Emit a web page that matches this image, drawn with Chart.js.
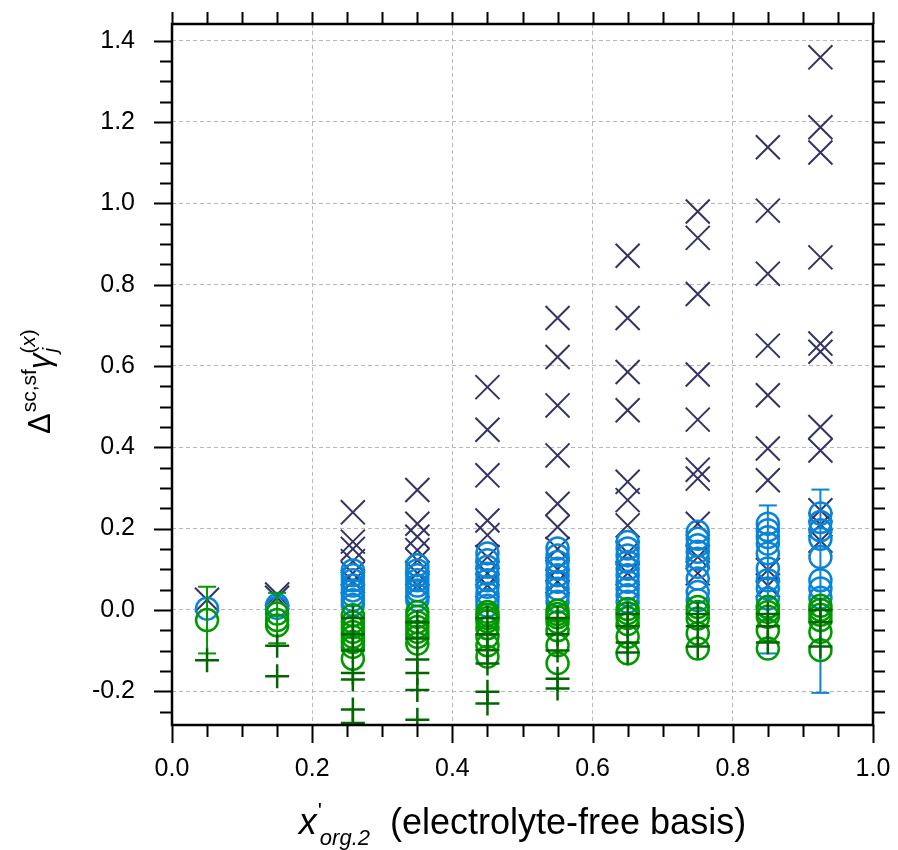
<!DOCTYPE html>
<html>
<head>
<meta charset="utf-8">
<script src="https://cdn.jsdelivr.net/npm/chart.js@4"></script>
<style>
  html, body { margin: 0; padding: 0; background: #fff; }
  #wrap { width: 898px; height: 850px; }
</style>
</head>
<body>
<div id="wrap"><canvas id="chart" width="898" height="850"></canvas></div>
<script>
// x positions of the ten composition groups
const xGroups = [0.05, 0.15, 0.258, 0.35, 0.45, 0.55, 0.65, 0.75, 0.85, 0.925];

// navy X markers
const crossVals = [
  [0.025],
  [0.038, 0.03],
  [0.24, 0.168, 0.15, 0.12, 0.09, 0.07],
  [0.295, 0.212, 0.18, 0.147, 0.122, 0.09, 0.06],
  [0.548, 0.443, 0.331, 0.22, 0.184, 0.13, 0.09, 0.06],
  [0.718, 0.622, 0.503, 0.38, 0.261, 0.204, 0.15, 0.1, 0.07],
  [0.871, 0.718, 0.585, 0.491, 0.315, 0.27, 0.208, 0.14, 0.09],
  [0.98, 0.915, 0.777, 0.579, 0.468, 0.345, 0.323, 0.212, 0.13, 0.09],
  [1.138, 0.982, 0.827, 0.65, 0.528, 0.397, 0.319, 0.098, 0.06],
  [1.359, 1.187, 1.125, 0.867, 0.655, 0.635, 0.45, 0.392, 0.245, 0.21, 0.17]
];

// blue open circles
const blueVals = [
  [0.003],
  [0.012, 0.005],
  [0.097, 0.085, 0.073, 0.06, 0.048, 0.036, 0.024, 0.012],
  [0.11, 0.097, 0.085, 0.073, 0.06, 0.048, 0.036, 0.024],
  [0.139, 0.122, 0.106, 0.089, 0.073, 0.057, 0.04, 0.024, 0.01],
  [0.151, 0.134, 0.118, 0.101, 0.085, 0.069, 0.052, 0.036, 0.02],
  [0.167, 0.151, 0.134, 0.118, 0.101, 0.085, 0.069, 0.052, 0.036, 0.02],
  [0.192, 0.175, 0.159, 0.143, 0.126, 0.106, 0.077, 0.044, 0.024],
  [0.212, 0.196, 0.179, 0.163, 0.139, 0.102, 0.073, 0.053, 0.028, 0.007],
  [0.237, 0.216, 0.196, 0.175, 0.13, 0.073, 0.053, 0.03]
];

// green open circles
const greenVals = [
  [-0.025],
  [-0.009, -0.025, -0.038],
  [-0.013, -0.03, -0.042, -0.054, -0.066, -0.079, -0.091, -0.12],
  [-0.005, -0.017, -0.03, -0.042, -0.054, -0.066, -0.083],
  [-0.005, -0.012, -0.02, -0.028, -0.045, -0.066, -0.087, -0.115],
  [-0.002, -0.01, -0.018, -0.03, -0.05, -0.087, -0.131],
  [0.002, -0.008, -0.02, -0.035, -0.066, -0.107],
  [0.007, -0.005, -0.021, -0.058, -0.095],
  [0.007, -0.005, -0.017, -0.05, -0.095],
  [0.01, 0.0, -0.012, -0.025, -0.054, -0.099]
];

// dark green plus markers
const plusVals = [
  [-0.124],
  [-0.088, -0.163],
  [-0.02, -0.06, -0.1, -0.155, -0.171, -0.245, -0.278],
  [-0.03, -0.07, -0.122, -0.155, -0.197, -0.27],
  [-0.02, -0.06, -0.099, -0.132, -0.201, -0.23],
  [-0.02, -0.06, -0.1, -0.169, -0.193],
  [-0.01, -0.04, -0.08, -0.105],
  [-0.01, -0.04, -0.09],
  [-0.01, -0.04, -0.08],
  [0.0, -0.03, -0.09]
];

// error bars (centre and half-width)
const greenErrX = [0.05, 0.15];
const greenErrMid = [-0.025, -0.02];
const greenErrHalf = [0.082, 0.062];
const blueErrX = [0.85, 0.925];
const blueErrMid = [0.075, 0.046];
const blueErrHalf = [0.182, 0.25];

const NAVY = "#333366";
const BLUE = "#0a84d6";
const GREEN = "#009a00";
const DKGREEN = "#006600";
const FONT = "'Liberation Sans', Arial, sans-serif";

Chart.defaults.font.family = FONT;
Chart.defaults.font.size = 25;
Chart.defaults.color = "#000";

function groupPoints(vals) {
  const out = [];
  xGroups.forEach((x, i) => vals[i].forEach(y => out.push({ x, y })));
  return out;
}

function errPoints(xs, mids, halfs) {
  const out = [];
  xs.forEach((x, i) => {
    out.push({ x, y: mids[i] - halfs[i] }, { x, y: mids[i] + halfs[i] }, { x, y: null });
  });
  return out;
}

const onStep = (v, s) => Math.abs(v / s - Math.round(v / s)) < 1e-6;
const isMajor = v => onStep(v, 0.2);

// frame, outward ticks on all sides and the two axis titles
const frameTicks = {
  id: "frameTicks",
  afterDatasetsDraw(chart) {
    const { ctx, chartArea: a, scales } = chart;
    const x = scales.x, y = scales.y;
    ctx.save();
    ctx.strokeStyle = "#000";
    ctx.lineWidth = 2;
    ctx.beginPath();
    x.ticks.forEach(t => {
      if (!onStep(t.value, 0.05)) return;
      const px = Math.round(x.getPixelForValue(t.value)) + 0.5;
      const len = isMajor(t.value) ? 18 : 12;
      ctx.moveTo(px, a.bottom); ctx.lineTo(px, a.bottom + len);
      ctx.moveTo(px, a.top); ctx.lineTo(px, a.top - 12);
    });
    y.ticks.forEach(t => {
      if (!onStep(t.value, 0.05)) return;
      const py = Math.round(y.getPixelForValue(t.value)) + 0.5;
      const len = isMajor(t.value) ? 18 : 12;
      ctx.moveTo(a.left - len, py); ctx.lineTo(a.left, py);
      ctx.moveTo(a.right, py); ctx.lineTo(a.right + 12, py);
    });
    ctx.stroke();
    ctx.lineWidth = 2.5;
    ctx.strokeRect(a.left, a.top, a.right - a.left, a.bottom - a.top);
    ctx.restore();
  },
  afterDraw(chart) {
    const { ctx, chartArea: a } = chart;
    ctx.save();
    ctx.fillStyle = "#000";
    ctx.textBaseline = "alphabetic";
    ctx.textAlign = "left";

    // x title: x'_org.2  (electrolyte-free basis)
    const big = "36px " + FONT;
    const bigI = "italic 36px " + FONT;
    const sub = "italic 22px " + FONT;
    const rest = "  (electrolyte-free basis)";
    ctx.font = bigI; const wx = ctx.measureText("x").width;
    ctx.font = sub; const ws = ctx.measureText("org.2").width;
    ctx.font = big; const wr = ctx.measureText(rest).width;
    const total = wx + 3 + ws + wr;
    let cx = (a.left + a.right) / 2 - total / 2;
    const base = 834;
    ctx.font = bigI; ctx.fillText("x", cx, base);
    ctx.font = "22px " + FONT; ctx.fillText("'", cx + wx + 1, base - 16);
    ctx.font = sub; ctx.fillText("org.2", cx + wx + 3, base + 11);
    ctx.font = big; ctx.fillText(rest, cx + wx + 3 + ws, base);

    // y title: Δ^{sc,sf} γ_j^{(x)}, rotated
    ctx.translate(50, 434);
    ctx.rotate(-Math.PI / 2);
    const f = "31px " + FONT;
    const fi = "italic 31px " + FONT;
    const s = "21px " + FONT;
    const si = "italic 21px " + FONT;
    let p = 0;
    ctx.font = f; ctx.fillText("\u0394", p, 0); p += ctx.measureText("\u0394").width + 1;
    ctx.font = s; ctx.fillText("sc,sf", p, -14); p += ctx.measureText("sc,sf").width;
    ctx.font = fi; ctx.fillText("\u03b3", p, 0); p += ctx.measureText("\u03b3").width;
    ctx.font = si; ctx.fillText("j", p + 1, 7);
    ctx.font = s; ctx.fillText("(", p, -15); let q = p + ctx.measureText("(").width;
    ctx.font = si; ctx.fillText("x", q, -15); q += ctx.measureText("x").width;
    ctx.font = s; ctx.fillText(")", q, -15);
    ctx.restore();
  }
};

const markerDataset = (label, vals, style, color, radius, width, order) => ({
  label,
  data: groupPoints(vals),
  pointStyle: style,
  radius,
  borderColor: color,
  backgroundColor: "rgba(0,0,0,0)",
  borderWidth: width,
  showLine: false,
  order
});

const errDataset = (label, xs, mids, halfs, color, order) => ({
  label,
  data: errPoints(xs, mids, halfs),
  showLine: true,
  spanGaps: false,
  borderColor: color,
  borderWidth: 2,
  pointStyle: "line",
  radius: 9,
  pointBorderColor: color,
  pointBorderWidth: 2,
  order
});

const gridColor = ctx => (isMajor(ctx.tick.value) ? "#b8b8b8" : "rgba(0,0,0,0)");
const tickFont = { family: FONT, size: 25 };

new Chart(document.getElementById("chart"), {
  type: "scatter",
  data: {
    datasets: [
      markerDataset("plus", plusVals, "cross", DKGREEN, 12, 2.5, 0),
      errDataset("green err", greenErrX, greenErrMid, greenErrHalf, GREEN, 1),
      markerDataset("green", greenVals, "circle", GREEN, 11, 2.5, 2),
      errDataset("blue err", blueErrX, blueErrMid, blueErrHalf, BLUE, 3),
      markerDataset("blue", blueVals, "circle", BLUE, 11, 2.5, 4),
      markerDataset("cross", crossVals, "crossRot", NAVY, 17, 2, 5)
    ]
  },
  options: {
    responsive: false,
    animation: false,
    layout: { padding: { left: 0, right: 25, top: 24, bottom: 0 } },
    plugins: { legend: { display: false }, tooltip: { enabled: false } },
    scales: {
      x: {
        type: "linear",
        min: 0,
        max: 1,
        afterFit: s => { s.height = 125; s.paddingLeft = 0; s.paddingRight = 0; },
        ticks: {
          stepSize: 0.05,
          autoSkip: false,
          includeBounds: false,
          maxRotation: 0,
          padding: 11,
          color: "#000",
          font: tickFont,
          callback: v => (isMajor(v) ? v.toFixed(1) : "")
        },
        grid: { color: gridColor, lineWidth: 1, tickLength: 18, tickColor: "rgba(0,0,0,0)" },
        border: { display: false, dash: [4, 3] }
      },
      y: {
        type: "linear",
        min: -0.283,
        max: 1.441,
        afterFit: s => { s.width = 172; s.paddingTop = 0; s.paddingBottom = 0; },
        ticks: {
          stepSize: 0.05,
          autoSkip: false,
          includeBounds: false,
          padding: 19,
          color: "#000",
          font: tickFont,
          callback: v => (isMajor(v) ? v.toFixed(1) : "")
        },
        grid: { color: gridColor, lineWidth: 1, tickLength: 18, tickColor: "rgba(0,0,0,0)" },
        border: { display: false, dash: [4, 3] }
      }
    }
  },
  plugins: [frameTicks]
});
</script>
</body>
</html>
